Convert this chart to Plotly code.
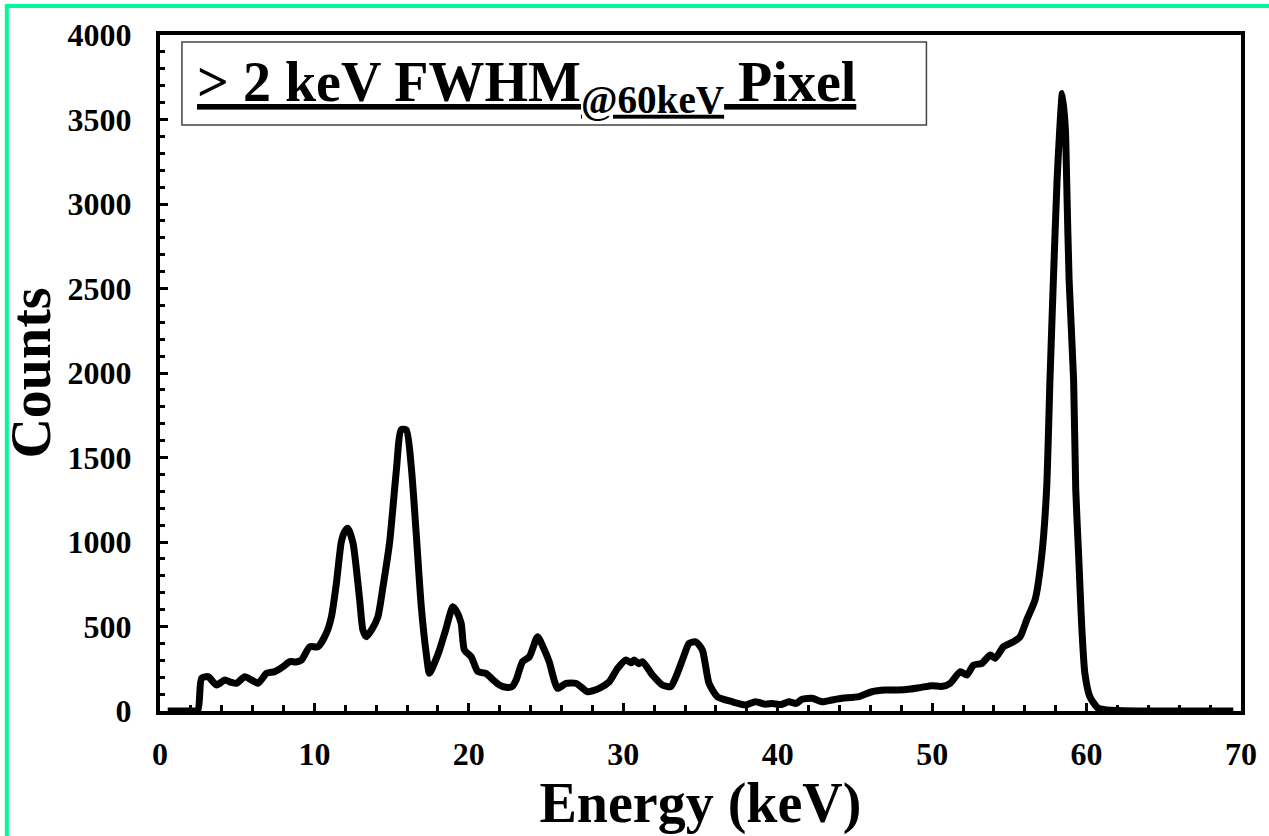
import plotly.graph_objects as go

energy_kev = [0.5, 1.0, 2.0, 2.45, 2.69, 3.12, 3.66, 4.2, 4.6, 4.96, 5.49, 5.9, 6.35, 6.9, 7.43, 7.97,
              8.4, 8.8, 9.16, 9.7, 10.23, 10.77, 11.1, 11.42, 11.74, 11.95, 12.17, 12.5, 12.93, 13.14,
              13.36, 13.7, 14.11, 14.44, 14.87, 15.3, 15.62, 15.95, 16.27, 16.59, 16.92, 17.24, 17.45,
              17.8, 18.1, 18.5, 18.96, 19.2, 19.5, 19.71, 20.15, 20.58, 21.1, 21.5, 21.98, 22.4, 22.8,
              23.06, 23.48, 23.92, 24.45, 24.8, 25.2, 25.75, 26.29, 26.93, 27.3, 27.68, 28.44, 29.09,
              29.63, 30.17, 30.5, 30.7, 31.0, 31.24, 31.89, 32.53, 33.07, 33.5, 33.9, 34.26, 34.69, 35.12, 35.55,
              36.09, 37.05, 37.92, 38.56, 39.2, 39.65, 40.2, 40.72, 41.2, 41.58, 42.23, 42.87, 43.5, 44.16, 45.25, 46.1, 46.97,
              47.8, 48.6, 49.3, 50.0, 50.6, 51.17, 51.82, 52.25, 52.68, 53.22, 53.76, 54.08, 54.62,
              55.27, 55.7, 56.12, 56.67, 57.09, 57.41, 57.63, 57.85, 58.09, 58.26, 58.43, 58.63, 58.71,
              58.87, 59.16, 59.3, 59.49, 59.6, 59.7, 59.89, 60.21, 60.75, 61.18, 62.05, 64.0, 66.0,
              68.0, 69.5]

counts = [0, 0, 0, 5, 193, 203, 154, 183, 170, 164, 203, 185, 164, 223, 233, 262,
          292, 290, 302, 380, 380, 460, 558, 755, 1000, 1060, 1081, 992, 657, 479,
          440, 480, 558, 735, 1000, 1420, 1665, 1663, 1446, 1051, 617, 341, 223,
          290, 361, 480, 617, 590, 520, 361, 321, 233, 223, 190, 154, 140, 144,
          183, 292, 321, 440, 380, 292, 134, 164, 164, 140, 114, 134, 173,
          252, 302, 285, 302, 280, 292, 213, 154, 144, 223, 320, 400, 410, 361, 164,
          85, 55, 36, 55, 40, 45, 38, 55, 45, 69, 75, 55, 65, 75, 85, 114, 124,
          124, 130, 140, 150, 145, 164, 233, 213, 272, 282, 331, 312, 380,
          410, 440, 538, 660, 913, 1308, 1959, 2550, 3142, 3438, 3654, 3438, 3142,
          2550, 1959, 1308, 913, 676, 479, 223, 85, 16, 8, 3, 0, 0,
          0, 0]

title_text = "<u>&gt; 2 keV FWHM<sub>@60keV</sub> Pixel</u>"
x_title = "Energy (keV)"
y_title = "Counts"

FONT = "Liberation Serif"

fig = go.Figure()
fig.add_trace(go.Scatter(
    x=energy_kev, y=counts, mode="lines",
    line=dict(color="black", width=7, shape="spline", smoothing=0.6),
    showlegend=False, hoverinfo="skip",
))

axis_common = dict(
    showline=True, linecolor="black", linewidth=4, mirror=True,
    ticks="inside", tickcolor="black", tickwidth=3, ticklen=8,
    showgrid=False, zeroline=False,
    tickfont=dict(family=FONT, size=32, color="black", weight="bold"),
)

fig.update_xaxes(
    range=[0, 70], dtick=10, tick0=0,
    minor=dict(dtick=2, ticks="inside", ticklen=6, tickwidth=3, tickcolor="black"),
    ticklabelstandoff=12,
    title=dict(text=x_title, font=dict(family=FONT, size=56, color="black", weight="bold"), standoff=2),
    **axis_common,
)
fig.update_yaxes(
    range=[0, 4000], dtick=500, tick0=0,
    minor=dict(dtick=100, ticks="inside", ticklen=5, tickwidth=3, tickcolor="black"),
    ticklabelstandoff=18,
    title=dict(text=y_title, font=dict(family=FONT, size=56, color="black", weight="bold"), standoff=6),
    **axis_common,
)

# Title box
fig.add_shape(type="rect", xref="paper", yref="paper",
              x0=0.0203, x1=0.709, y0=0.8669, y1=0.9896,
              line=dict(color="#444444", width=1.5), fillcolor="white", layer="above")
fig.add_annotation(text=title_text, xref="paper", yref="paper", x=0.0323, y=0.924,
                   xanchor="left", yanchor="middle", showarrow=False,
                   font=dict(family=FONT, size=56, color="black", weight="bold"))

# Outer green frame
fig.add_shape(type="rect", xref="paper", yref="paper",
              x0=-0.1417, x1=1.5, y0=-0.5, y1=1.0429,
              line=dict(color="#00FA9A", width=4), layer="below")

fig.update_layout(
    width=1269, height=836,
    margin=dict(l=160, r=26, t=35, b=125),
    paper_bgcolor="white", plot_bgcolor="white",
)

fig.write_html("out.html")
